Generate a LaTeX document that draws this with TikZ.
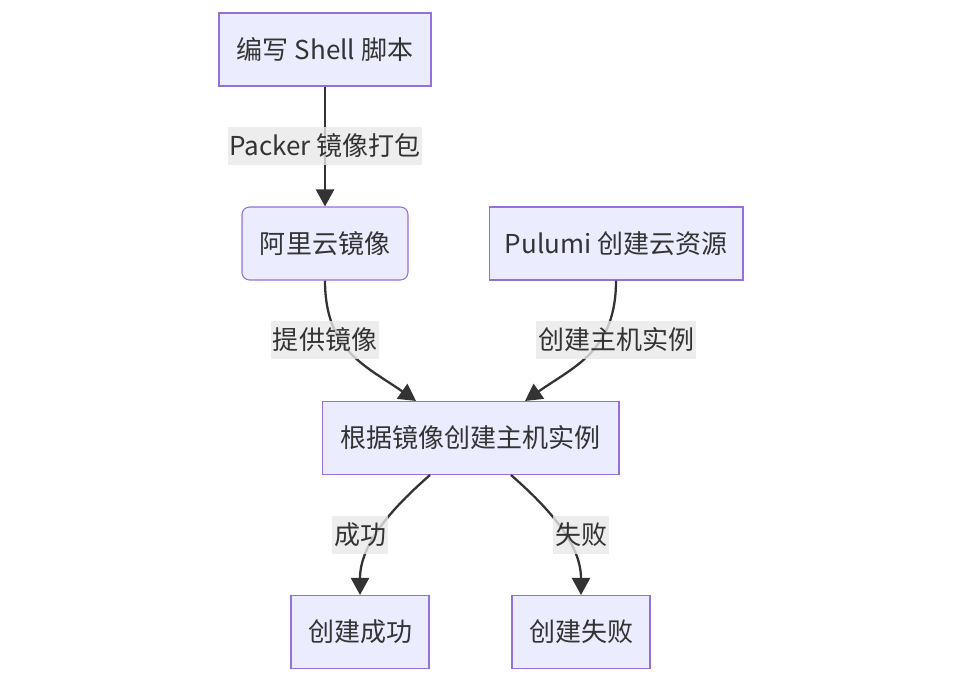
\documentclass[tikz,border=0pt]{standalone}
\usepackage{fontspec}
\setmainfont{Noto Sans CJK SC}
\usetikzlibrary{arrows.meta,calc}
\definecolor{boxfill}{HTML}{ECECFF}
\definecolor{boxline}{HTML}{9370DB}
\definecolor{ink}{HTML}{333333}
\definecolor{lblbg}{HTML}{E8E8E8}
\tikzset{
  box/.style={draw=boxline, fill=boxfill, line width=0.6pt, text=ink,
    minimum height=1.46cm, inner sep=0pt, font=\fontsize{14.8}{18}\selectfont},
  lbl/.style={fill=lblbg, fill opacity=0.8, text opacity=1, text=ink, inner xsep=1pt,
    inner ysep=0pt, minimum height=0.76cm, font=\fontsize{14.8}{18}\selectfont},
  edge/.style={draw=ink, line width=1.3pt, -{Triangle[length=0.34cm,width=0.36cm]}}
}
\begin{document}
\begin{tikzpicture}[x=0.02cm,y=-0.02cm]
    \useasboundingbox (0,0) rectangle (962,682);
    % boxes
    \node[box, minimum width=4.24cm] (shell) at (325,49.5) {编写 Shell 脚本};
    \node[box, minimum width=3.32cm, rounded corners=0.15cm] (image) at (325,243.5) {阿里云镜像};
    \node[box, minimum width=5.08cm] (pulumi) at (616,243.5) {Pulumi 创建云资源};
    \node[box, minimum width=5.94cm] (host) at (470.5,438) {根据镜像创建主机实例};
    \node[box, minimum width=2.76cm] (ok) at (360,632) {创建成功};
    \node[box, minimum width=2.76cm] (fail) at (581,632) {创建失败};
    % connectors
    \draw[edge] (shell) -- (image);
    \draw[edge] (image.south) .. controls +(0,70) and +(-50,-35) .. ($(host.north)+(-54.5,0)$);
    \draw[edge] (pulumi.south) .. controls +(0,70) and +(50,-35) .. ($(host.north)+(54.5,0)$);
    \draw[edge] ($(host.south)+(-40.5,0)$) .. controls +(-40,35) and +(0,-50) .. (ok.north);
    \draw[edge] ($(host.south)+(40.5,0)$) .. controls +(40,35) and +(0,-50) .. (fail.north);
    % edge labels
    \node[lbl] (pack) at (325,146) {Packer 镜像打包};
    \node[lbl] (give) at (325,340) {提供镜像};
    \node[lbl] (make) at (616,340) {创建主机实例};
    \node[lbl] (yes) at (360,535) {成功};
    \node[lbl] (no) at (581,535) {失败};
\end{tikzpicture}
\end{document}
